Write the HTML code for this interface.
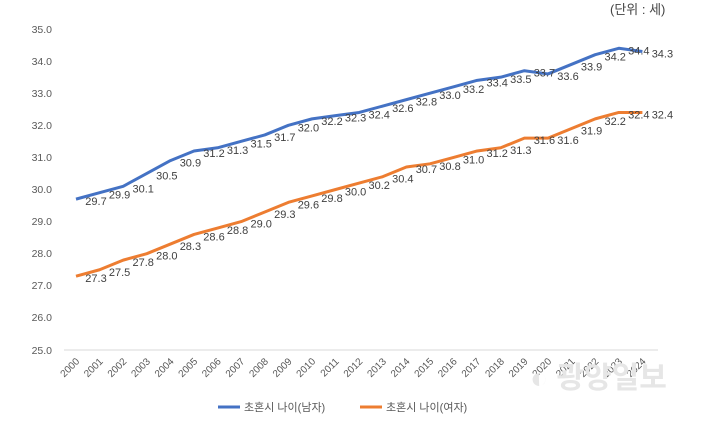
<!DOCTYPE html>
<html><head><meta charset="utf-8"><style>
body{margin:0;background:#fff;}
svg{display:block;font-family:"Liberation Sans","Noto Sans CJK KR",sans-serif;}
</style></head><body>
<svg width="703" height="424" xmlns="http://www.w3.org/2000/svg">
<text x="610" y="14" font-size="13" fill="#444">(단위 : 세)</text>
<g font-size="10.5" fill="#595959" text-anchor="end">
<text x="52" y="33">35.0</text><text x="52" y="65">34.0</text><text x="52" y="97">33.0</text>
<text x="52" y="129">32.0</text><text x="52" y="161">31.0</text><text x="52" y="193">30.0</text>
<text x="52" y="225">29.0</text><text x="52" y="257">28.0</text><text x="52" y="289">27.0</text>
<text x="52" y="321">26.0</text><text x="52" y="354">25.0</text>
</g>
<line x1="64" y1="350" x2="658" y2="350" stroke="#d9d9d9" stroke-width="1"/>
<g id="ax" font-size="10" fill="#595959" text-anchor="end"></g>
<polyline id="m" fill="none" stroke="#4472c4" stroke-width="3" stroke-linejoin="round"/>
<polyline id="f" fill="none" stroke="#ed7d31" stroke-width="3" stroke-linejoin="round"/>
<g id="lb" font-size="11" fill="#404040" text-anchor="middle"></g>
<text x="530" y="388" font-size="30" font-weight="bold" fill="#e6e6e6">◐ 광양일보</text>
<line x1="218" y1="407" x2="240" y2="407" stroke="#4472c4" stroke-width="3"/>
<text x="244" y="411" font-size="11" fill="#595959">초혼시 나이(남자)</text>
<line x1="360" y1="407" x2="382" y2="407" stroke="#ed7d31" stroke-width="3"/>
<text x="386" y="411" font-size="11" fill="#595959">초혼시 나이(여자)</text>
<script>
var M=[29.7,29.9,30.1,30.5,30.9,31.2,31.3,31.5,31.7,32.0,32.2,32.3,32.4,32.6,32.8,33.0,33.2,33.4,33.5,33.7,33.6,33.9,34.2,34.4,34.3];
var F=[27.3,27.5,27.8,28.0,28.3,28.6,28.8,29.0,29.3,29.6,29.8,30.0,30.2,30.4,30.7,30.8,31.0,31.2,31.3,31.6,31.6,31.9,32.2,32.4,32.4];
function X(i){return 76+i*23.6}function Y(v){return 350-(v-25)*32.1}
var ns="http://www.w3.org/2000/svg";
function pl(id,d){document.getElementById(id).setAttribute("points",d.map(function(v,i){return X(i)+","+Y(v)}).join(" "));
var g=document.getElementById("lb");d.forEach(function(v,i){var t=document.createElementNS(ns,"text");t.setAttribute("x",X(i)+20);t.setAttribute("y",Y(v)+6);t.textContent=v.toFixed(1);g.appendChild(t);});}
pl("m",M);pl("f",F);
var ax=document.getElementById("ax");
for(var i=0;i<25;i++){var t=document.createElementNS(ns,"text");var x=X(i)+4,y=362;t.setAttribute("x",x);t.setAttribute("y",y);t.setAttribute("transform","rotate(-45 "+x+" "+y+")");t.textContent=2000+i;ax.appendChild(t);}
</script>
</svg>
</body></html>
